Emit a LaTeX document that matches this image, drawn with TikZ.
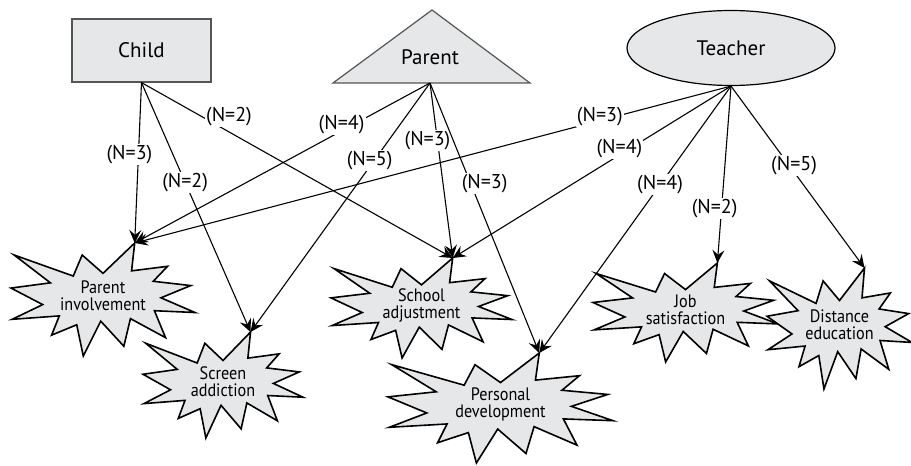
\documentclass[tikz,border=0pt]{standalone}
\usepackage{fontspec}
\setmainfont{PT Sans}
\newfontfamily\narrowfont[FakeStretch=0.9]{PT Sans}
\usetikzlibrary{arrows.meta,shapes.geometric}

\definecolor{shade}{RGB}{230,231,232}
\definecolor{rim}{RGB}{85,85,85}

\tikzset{
	topshape/.style={draw=rim,fill=shade,line width=0.6pt},
	burst/.style={draw=black,fill=shade,line width=0.8pt,line join=miter},
	bursttext/.style={align=center,inner sep=0pt,font=\narrowfont\fontsize{9}{8.5}\selectfont},
	arr/.style={line width=0.55pt,-{Stealth[length=6.5pt,width=6pt,inset=2.4pt]}},
	lbl/.style={fill=white,inner sep=0.6pt,font=\fontsize{10}{11}\selectfont},
	pics/boom/.style={code={
		\draw[burst] (50,26.85) -- (67.23,0) -- (65.53,24.65) -- (85.09,20.63)
			-- (77.32,33.87) -- (97.67,37.67) -- (81.51,48.50) -- (100,61.53)
			-- (77.95,59.92) -- (84.00,83.77) -- (64.91,66.93) -- (61.33,91.38)
			-- (48.76,69.14) -- (39.28,100) -- (35.72,72.35) -- (22.05,81.56)
			-- (26.24,64.52) -- (0.63,67.53) -- (17.23,54.51) -- (0,39.88)
			-- (21.42,35.26) -- (1.71,10.63) -- (33.85,29.26) -- (38.67,10.63) -- cycle;
		\coordinate (-tip) at (67.23,0);
		\node[bursttext] (-txt) at (50,47) {#1};
	}}
}

\begin{document}
\begin{tikzpicture}[x=0.5pt,y=-0.5pt]
	\useasboundingbox (0,0) rectangle (911,466);

	% sources
	\node[topshape,minimum width=69.5pt,minimum height=31.5pt,font=\fontsize{10.5}{12}\selectfont] (chi) at (141.5,50.5) {Child};
	\draw[topshape] (333,83) -- (432,10) -- (530,83) -- cycle;
	\node[font=\fontsize{10.5}{12}\selectfont] (par) at (430,57) {Parent};
	\coordinate (par-s) at (430,83);
	\node[topshape,draw=black,ellipse,minimum width=104pt,minimum height=37.5pt,inner sep=0pt,font=\fontsize{10.5}{12}\selectfont] (tea) at (731,48) {Teacher};

	% outcomes
	\pic[xscale=1.84,yscale=1.13] (pinv) at (11,243) {boom={Parent\\involvement}};
	\pic[xscale=1.60,yscale=1.06] (scr) at (143,332) {boom={Screen\\addiction}};
	\pic[xscale=1.81,yscale=1.00] (sch) at (331,258) {boom={School\\adjustment}};
	\pic[xscale=2.25,yscale=1.10] (pers) at (388,353) {boom={Personal\\development}};
	\pic[xscale=1.85,yscale=0.99] (job) at (593,263) {boom={Job\\satisfaction}};
	\pic[xscale=1.45,yscale=1.21] (dist) at (767,268) {boom={Distance\\education}};

	% child
	\draw[arr] (chi.south) -- node[lbl,pos=.45,xshift=-4.5pt] (c1) {(N=3)} (pinv-tip);
	\draw[arr] (chi.south) -- node[lbl,pos=.40] (c2) {(N=2)} (scr-tip);
	\draw[arr] (chi.south) -- node[lbl,pos=.26,xshift=3.3pt,yshift=5.8pt] (c3) {(N=2)} (sch-tip);

	% parent
	\draw[arr] (par-s) -- node[lbl,pos=.29,xshift=-1.4pt,yshift=2.6pt] (p1) {(N=4)} (pinv-tip);
	\draw[arr] (par-s) -- node[lbl,pos=.32,xshift=-1.5pt,yshift=1pt] (p2) {(N=5)} (scr-tip);
	\draw[arr] (par-s) -- node[lbl,pos=.33,xshift=-5pt] (p3) {(N=3)} (sch-tip);
	\draw[arr] (par-s) -- node[lbl,pos=.39,xshift=6pt,yshift=2.5pt] (p4) {(N=3)} (pers-tip);

	% teacher
	\draw[arr] (tea.south) -- node[lbl,pos=.22,yshift=2pt] (t1) {(N=3)} (pinv-tip);
	\draw[arr] (tea.south) -- node[lbl,pos=.39,xshift=-1.5pt,yshift=2.5pt] (t2) {(N=4)} (sch-tip);
	\draw[arr] (tea.south) -- node[lbl,pos=.37] (t3) {(N=4)} (pers-tip);
	\draw[arr] (tea.south) -- node[lbl,pos=.69,xshift=-3.5pt] (t4) {(N=2)} (job-tip);
	\draw[arr] (tea.south) -- node[lbl,pos=.45,xshift=1.5pt,yshift=1pt] (t5) {(N=5)} (dist-tip);
\end{tikzpicture}
\end{document}
